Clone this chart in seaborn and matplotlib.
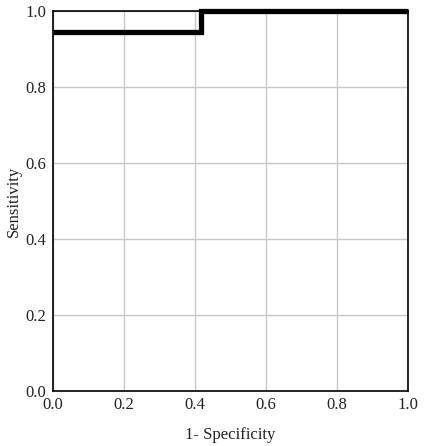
import pandas as pd
import seaborn as sns
import matplotlib.pyplot as plt

fpr = [0.0, 0.4167, 1.0]
tpr = [0.944, 1.0, 1.0]
ticks = [0.0, 0.2, 0.4, 0.6, 0.8, 1.0]
tick_labels = ['0.0', '0.2', '0.4', '0.6', '0.8', '1.0']

df = pd.DataFrame({'fpr': fpr, 'tpr': tpr})

sns.set_style('white')
plt.rcParams['font.family'] = ['Liberation Serif', 'DejaVu Serif']

fig = plt.figure(figsize=(4.28, 4.46), dpi=100)
ax = fig.add_axes([53 / 428, 55 / 446, 355 / 428, 380 / 446])
sns.lineplot(data=df, x='fpr', y='tpr', ax=ax, color='black', linewidth=3.8,
             drawstyle='steps-post', estimator=None, sort=False, clip_on=False,
             solid_capstyle='butt', solid_joinstyle='miter')
ax.set_xlim(0, 1)
ax.set_ylim(0, 1)
ax.set_xticks(ticks)
ax.set_xticklabels(tick_labels)
ax.set_yticks(ticks)
ax.set_yticklabels(tick_labels)
ax.grid(True, color='#c8c8c8', linewidth=1)
ax.tick_params(axis='x', length=0, pad=4, labelsize=12, labelcolor='#222222')
ax.tick_params(axis='y', length=4, color='#c8c8c8', pad=1, labelsize=12, labelcolor='#222222')
for s in ax.spines.values():
    s.set_color('black')
    s.set_linewidth(1.2)
ax.set_xlabel('1- Specificity', fontsize=12, color='#222222')
ax.set_ylabel('Sensitivity', fontsize=12, color='#222222')
ax.xaxis.set_label_coords(0.5, -0.095)
ax.yaxis.set_label_coords(-0.088, 0.5)
fig.savefig('out.png', dpi=100)
